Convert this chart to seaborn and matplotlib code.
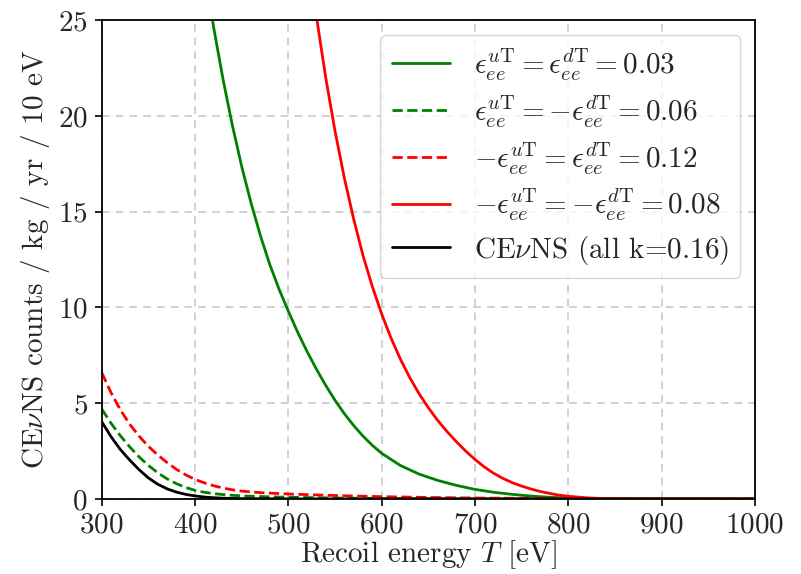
import pandas as pd
import seaborn as sns
import matplotlib.pyplot as plt

# values
green_solid_T = [410, 420, 430, 440, 450, 460, 470, 480, 490, 500, 510, 520, 530, 540, 550, 560, 570,
                 580, 590, 600, 620, 640, 660, 680, 700, 720, 740, 760, 780, 800, 820, 840, 860, 1000]
green_solid_N = [27.7, 24.6, 21.9, 19.5, 17.35, 15.45, 13.75, 12.25, 10.95, 9.8, 8.7, 7.7, 6.78, 5.93, 5.15,
                 4.45, 3.83, 3.28, 2.8, 2.38, 1.75, 1.3, 0.97, 0.71, 0.5, 0.35, 0.24, 0.15, 0.09, 0.05,
                 0.02, 0.005, 0.0, 0.0]

green_dash_T = [300, 310, 320, 330, 340, 350, 360, 370, 380, 390, 400, 410, 420, 430, 440, 450, 475,
                500, 550, 600, 700, 800, 1000]
green_dash_N = [4.7, 3.95, 3.3, 2.72, 2.2, 1.75, 1.37, 1.05, 0.8, 0.6, 0.45, 0.35, 0.28, 0.23, 0.19, 0.16,
                0.12, 0.09, 0.05, 0.03, 0.012, 0.005, 0.0]

red_dash_T = [300, 310, 320, 330, 340, 350, 360, 370, 380, 390, 400, 410, 420, 430, 440, 450, 470,
              500, 550, 600, 650, 700, 800, 900, 1000]
red_dash_N = [6.6, 5.54, 4.65, 3.9, 3.28, 2.75, 2.3, 1.9, 1.55, 1.26, 1.02, 0.84, 0.69, 0.57, 0.48, 0.41,
              0.33, 0.26, 0.18, 0.12, 0.08, 0.05, 0.02, 0.01, 0.005]

red_solid_T = [520, 530, 540, 550, 560, 570, 580, 590, 600, 610, 620, 630, 640, 650, 660, 670, 680,
               690, 700, 710, 720, 730, 740, 750, 760, 770, 780, 790, 800, 820, 840, 860, 880, 1000]
red_solid_N = [28.7, 25.2, 22.0, 19.2, 16.75, 14.6, 12.7, 11.08, 9.65, 8.4, 7.3, 6.34, 5.5, 4.76, 4.1,
               3.52, 2.99, 2.5, 2.06, 1.67, 1.34, 1.07, 0.85, 0.67, 0.52, 0.39, 0.29, 0.2, 0.14, 0.06,
               0.02, 0.005, 0.0, 0.0]

cevns_T = [300, 310, 320, 330, 340, 350, 360, 370, 380, 390, 400, 410, 420, 430, 450, 500, 550, 1000]
cevns_N = [4.04, 3.25, 2.58, 2.03, 1.53, 1.1, 0.77, 0.53, 0.36, 0.24, 0.16, 0.1, 0.065, 0.04, 0.02,
           0.005, 0.0, 0.0]

labels = [
    r'$\epsilon_{ee}^{u\mathrm{T}} = \epsilon_{ee}^{d\mathrm{T}} = 0.03$',
    r'$\epsilon_{ee}^{u\mathrm{T}} = -\epsilon_{ee}^{d\mathrm{T}} = 0.06$',
    r'$-\epsilon_{ee}^{u\mathrm{T}} = \epsilon_{ee}^{d\mathrm{T}} = 0.12$',
    r'$-\epsilon_{ee}^{u\mathrm{T}} = -\epsilon_{ee}^{d\mathrm{T}} = 0.08$',
    r'CE$\nu$NS (all k=0.16)',
]

sns.set_style('ticks')
plt.rcParams['font.family'] = 'serif'
plt.rcParams['font.serif'] = ['cmr10']
plt.rcParams['mathtext.fontset'] = 'cm'
plt.rcParams['axes.formatter.use_mathtext'] = True
plt.rcParams['axes.unicode_minus'] = False

fig, ax = plt.subplots(figsize=(8.01, 5.74), dpi=100)
fig.subplots_adjust(left=0.127, right=0.9426, top=0.965, bottom=0.1307)

series = [
    (green_solid_T, green_solid_N, 'green', '-'),
    (green_dash_T, green_dash_N, 'green', '--'),
    (red_dash_T, red_dash_N, 'red', '--'),
    (red_solid_T, red_solid_N, 'red', '-'),
    (cevns_T, cevns_N, 'black', '-'),
]
for (T, N, c, ls), lab in zip(series, labels):
    df = pd.DataFrame({'T': T, 'N': N})
    sns.lineplot(data=df, x='T', y='N', color=c, linestyle=ls, linewidth=2, label=lab, ax=ax)

ax.set_xlim(300, 1000)
ax.set_ylim(0, 25)
ax.set_xticks(range(300, 1001, 100))
ax.set_yticks(range(0, 26, 5))
ax.grid(True, linestyle=(0, (5, 4)), color='#c4c4c4', linewidth=1.1)
for s in ax.spines.values():
    s.set_color('black')
    s.set_linewidth(1.3)
ax.tick_params(labelsize=21, length=5, width=1.2, color='black')
ax.tick_params(axis='x', pad=4.5)
ax.tick_params(axis='y', pad=5)
ax.set_xlabel(r'Recoil energy $T$ [eV]', fontsize=21, labelpad=0)
ax.set_ylabel(r'CE$\nu$NS counts / kg / yr / 10 eV', fontsize=21)
ax.legend(loc='upper right', fontsize=21, handlelength=2.0, labelspacing=0.35, framealpha=0.8)

plt.savefig('out.png', dpi=100)
